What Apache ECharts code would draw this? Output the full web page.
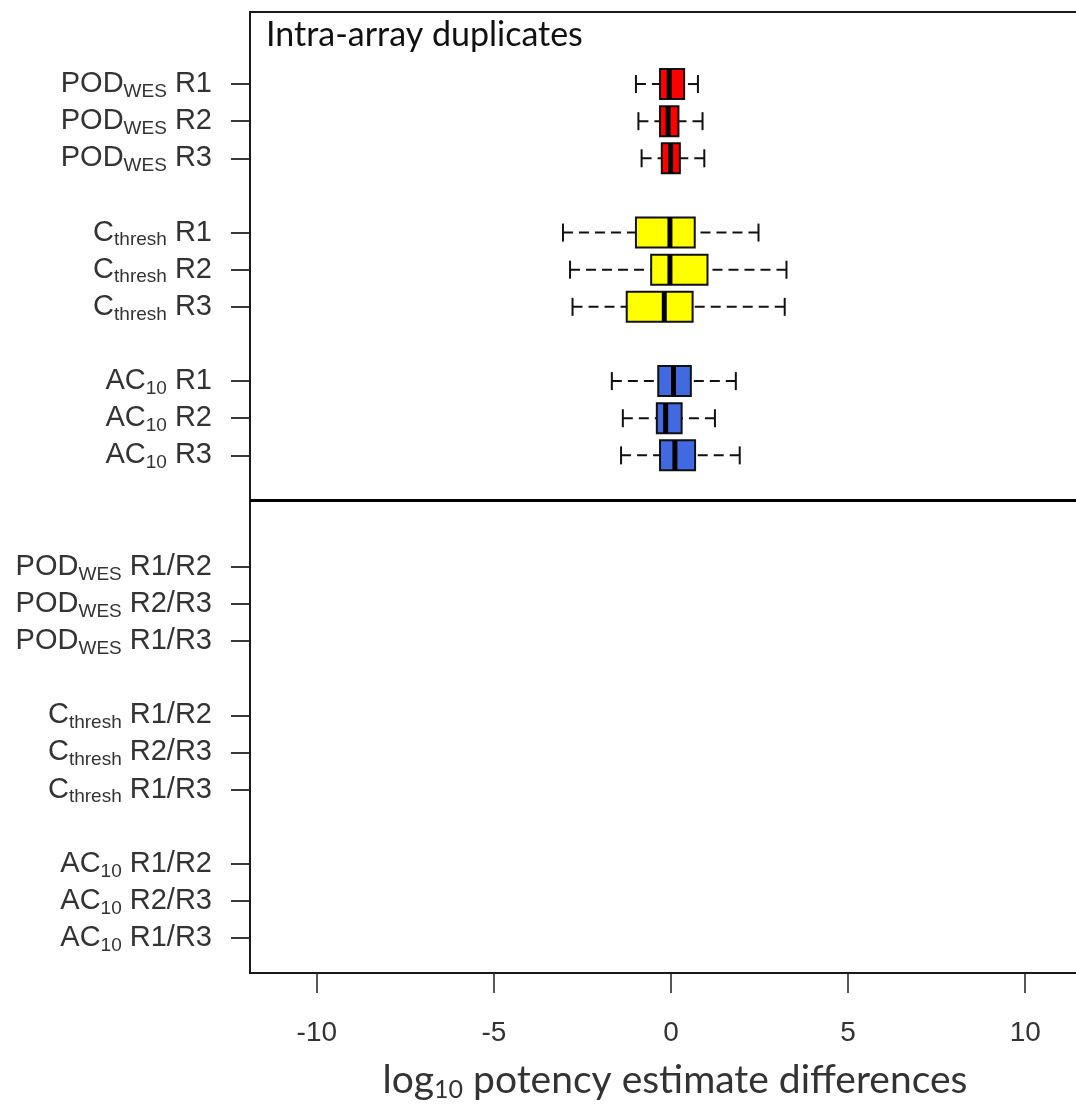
<!DOCTYPE html>
<html>
<head>
<meta charset="utf-8">
<title>Intra-array duplicates</title>
<script src="https://cdn.jsdelivr.net/npm/echarts@6/dist/echarts.min.js"></script>
<style>
  html, body { margin: 0; padding: 0; background: #fff; }
  #chart { width: 1076px; height: 1105px; }
</style>
</head>
<body>
<div id="chart"></div>
<script>
// row positions on the y scale (1 = top row)
const upperPos = [1, 2, 3, 5, 6, 7, 9, 10, 11]
const lowerPos = [14, 15, 16, 18, 19, 20, 22, 23, 24]

// row labels: [main, subscript, rest]
const upperLabels = [
  ['POD', 'WES', ' R1'], ['POD', 'WES', ' R2'], ['POD', 'WES', ' R3'],
  ['C', 'thresh', ' R1'], ['C', 'thresh', ' R2'], ['C', 'thresh', ' R3'],
  ['AC', '10', ' R1'], ['AC', '10', ' R2'], ['AC', '10', ' R3']
]
const lowerLabels = [
  ['POD', 'WES', ' R1/R2'], ['POD', 'WES', ' R2/R3'], ['POD', 'WES', ' R1/R3'],
  ['C', 'thresh', ' R1/R2'], ['C', 'thresh', ' R2/R3'], ['C', 'thresh', ' R1/R3'],
  ['AC', '10', ' R1/R2'], ['AC', '10', ' R2/R3'], ['AC', '10', ' R1/R3']
]

// box stats: [min, Q1, median, Q3, max]
const podWes = [
  [-0.99, -0.31, -0.05, 0.37, 0.76],
  [-0.92, -0.31, -0.08, 0.21, 0.89],
  [-0.83, -0.26, -0.01, 0.25, 0.94]
]
const cThresh = [
  [-3.05, -0.99, -0.03, 0.67, 2.47],
  [-2.85, -0.56, -0.03, 1.03, 3.26],
  [-2.78, -1.25, -0.19, 0.61, 3.21]
]
const ac10 = [
  [-1.67, -0.36, 0.07, 0.56, 1.83],
  [-1.36, -0.40, -0.15, 0.30, 1.24],
  [-1.41, -0.31, 0.11, 0.68, 1.94]
]
const groupColors = ['#ff0000', '#ffff00', '#4169e1']

const xTicks = [-10, -5, 0, 5, 10]
const dividerPos = 12.2

const allPos = upperPos.concat(lowerPos)
const allLabels = upperLabels.concat(lowerLabels)

const boxData = []
;[podWes, cThresh, ac10].forEach(function (group, g) {
  group.forEach(function (s, i) {
    boxData.push([upperPos[g * 3 + i]].concat(s).concat([g]))
  })
})

const arial = '"Liberation Sans", Arial, sans-serif'

function renderBox (params, api) {
  const y = api.value(0)
  const pMin = api.coord([api.value(1), y])
  const pQ1 = api.coord([api.value(2), y])
  const pMed = api.coord([api.value(3), y])
  const pQ3 = api.coord([api.value(4), y])
  const pMax = api.coord([api.value(5), y])
  const color = groupColors[api.value(6)]
  const cy = pMed[1]
  const half = 15
  const cap = 9
  const dash = { stroke: '#111', lineWidth: 2, lineDash: [10, 6] }
  const solid = { stroke: '#111', lineWidth: 2 }
  return {
    type: 'group',
    children: [
      { type: 'line', shape: { x1: pMin[0], y1: cy, x2: pQ1[0], y2: cy }, style: dash },
      { type: 'line', shape: { x1: pMax[0], y1: cy, x2: pQ3[0], y2: cy }, style: dash },
      { type: 'line', shape: { x1: pMin[0], y1: cy - cap, x2: pMin[0], y2: cy + cap }, style: solid },
      { type: 'line', shape: { x1: pMax[0], y1: cy - cap, x2: pMax[0], y2: cy + cap }, style: solid },
      {
        type: 'rect',
        shape: { x: pQ1[0], y: cy - half, width: pQ3[0] - pQ1[0], height: half * 2 },
        style: { fill: color, stroke: '#111', lineWidth: 2 }
      },
      { type: 'line', shape: { x1: pMed[0], y1: cy - half, x2: pMed[0], y2: cy + half }, style: { stroke: '#000', lineWidth: 5 } }
    ]
  }
}

const chart = echarts.init(document.getElementById('chart'))
chart.setOption({
  animation: false,
  backgroundColor: '#fff',
  grid: {
    left: 250,
    right: -4,
    top: 12,
    bottom: 132,
    outerBoundsMode: 'none',
    show: true,
    borderColor: '#1a1a1a',
    borderWidth: 2
  },
  xAxis: {
    type: 'value',
    min: -11.886,
    max: 11.547,
    axisLine: { show: false, onZero: false },
    splitLine: { show: false },
    axisTick: {
      show: true,
      customValues: xTicks,
      length: 20,
      lineStyle: { color: '#222', width: 1.5 }
    },
    axisLabel: {
      customValues: xTicks,
      margin: 46,
      fontFamily: arial,
      fontSize: 28,
      color: '#333'
    }
  },
  yAxis: {
    type: 'value',
    inverse: true,
    min: -0.94,
    max: 24.94,
    axisLine: { show: false, onZero: false },
    splitLine: { show: false },
    axisTick: {
      show: true,
      customValues: allPos,
      length: 19,
      lineStyle: { color: '#222', width: 1.8 }
    },
    axisLabel: {
      customValues: allPos,
      margin: 38,
      formatter: function (v) {
        const idx = allPos.indexOf(v)
        if (idx < 0) return ''
        const l = allLabels[idx]
        return '{m|' + l[0] + '}{s|' + l[1] + '}{m|' + l[2] + '}'
      },
      rich: {
        m: { fontFamily: arial, fontSize: 29, color: '#333', lineHeight: 34 },
        s: { fontFamily: arial, fontSize: 19, color: '#333', lineHeight: 19, verticalAlign: 'bottom' }
      }
    }
  },
  graphic: [
    {
      type: 'text',
      left: 266,
      top: 18,
      style: {
        text: 'Intra-array duplicates',
        font: '34px Lato',
        fill: '#111'
      }
    },
    {
      type: 'text',
      x: 675,
      y: 1080,
      style: {
        text: '{a|log}{b|10}{a| potency estimate differences}',
        align: 'center',
        verticalAlign: 'middle',
        rich: {
          a: { fontFamily: 'Lato', fontSize: 39, fill: '#333', lineHeight: 44 },
          b: { fontFamily: 'Lato', fontSize: 25, fill: '#333', lineHeight: 25, verticalAlign: 'bottom' }
        }
      }
    }
  ],
  series: [
    {
      type: 'custom',
      renderItem: renderBox,
      encode: { x: [1, 2, 3, 4, 5], y: 0 },
      data: boxData,
      markLine: {
        silent: true,
        symbol: 'none',
        label: { show: false },
        lineStyle: { color: '#000', width: 3, type: 'solid' },
        data: [{ yAxis: dividerPos }]
      }
    }
  ]
})
</script>
</body>
</html>
